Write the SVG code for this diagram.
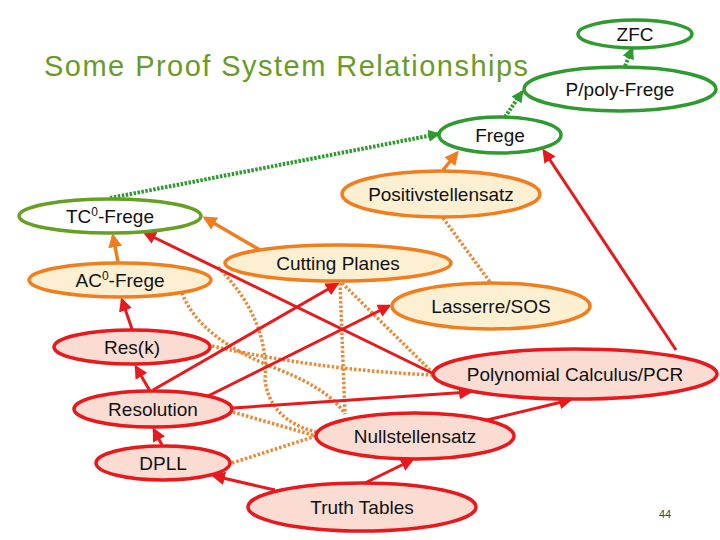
<svg xmlns="http://www.w3.org/2000/svg" width="720" height="540" viewBox="0 0 720 540">
<defs>
<style>
text{font-family:"Liberation Sans","DejaVu Sans",sans-serif;font-size:19px;fill:#111;text-anchor:middle}
.g{fill:#fff;stroke:#2f9a2f;stroke-width:3.5}
.g2{fill:#fff;stroke:#66a022;stroke-width:3.5}
.o{fill:#fdf0d2;stroke:#f07d1e;stroke-width:3.5}
.r{fill:#fbdcd2;stroke:#e8181c;stroke-width:3.5}
.gd{stroke:#2f9a2f;stroke-width:4;stroke-dasharray:2.5 1.5;fill:none}
.os{stroke:#f07d1e;stroke-width:3.5;fill:none}
.od{stroke:#ea8a38;stroke-width:3.5;stroke-dasharray:2.5 2;fill:none}
.rs{stroke:#e8181c;stroke-width:3;fill:none}
</style>
<marker id="ag" viewBox="0 0 10 10" refX="8" refY="5" markerWidth="3" markerHeight="3" orient="auto"><path d="M0,0L10,5L0,10z" fill="#2f9a2f"/></marker>
<marker id="ao" viewBox="0 0 10 10" refX="8" refY="5" markerWidth="4" markerHeight="4" orient="auto"><path d="M0,0L10,5L0,10z" fill="#f07d1e"/></marker>
<marker id="ar" viewBox="0 0 10 10" refX="8" refY="5" markerWidth="4.5" markerHeight="4.5" orient="auto"><path d="M0,0L10,5L0,10z" fill="#e8181c"/></marker>
</defs>
<rect width="720" height="540" fill="#fff"/>
<text x="44" y="76" textLength="484" style="font-size:29px;fill:#6a9a2a;text-anchor:start">Some Proof System Relationships</text>
<g id="connectors">
<path class="gd" d="M110,198 L438,134" marker-end="url(#ag)"/>
<path class="gd" d="M505,117 L522,92" marker-end="url(#ag)"/>
<path class="gd" d="M625,66 L632,49" marker-end="url(#ag)"/>
<path class="os" d="M118,262 L113,236" marker-end="url(#ao)"/>
<path class="os" d="M260,250 L205,218" marker-end="url(#ao)"/>
<path class="os" d="M443,170 L457,153" marker-end="url(#ao)"/>
<path class="od" d="M443,218 L490,282"/>
<path class="od" d="M340,283 L345,414"/>
<path class="od" d="M342,283 L430,370"/>
<path class="od" d="M182,293 Q200,340 280,370 Q330,390 345,414"/>
<path class="od" d="M218,267 Q270,320 265,380 Q270,420 316,432"/>
<path class="od" d="M212,346 Q320,370 432,375"/>
<path class="od" d="M233,412 L316,436"/>
<path class="od" d="M232,463 L316,436"/>
<path class="rs" d="M132,329 L122,300" marker-end="url(#ar)"/>
<path class="rs" d="M150,391 L136,367" marker-end="url(#ar)"/>
<path class="rs" d="M162,445 L154,430" marker-end="url(#ar)"/>
<path class="rs" d="M275,490 L214,476" marker-end="url(#ar)"/>
<path class="rs" d="M365,483 L412,460" marker-end="url(#ar)"/>
<path class="rs" d="M153,390 L337,284" marker-end="url(#ar)"/>
<path class="rs" d="M208,396 L389,306" marker-end="url(#ar)"/>
<path class="rs" d="M233,408 L470,392" marker-end="url(#ar)"/>
<path class="rs" d="M432,373 L145,233" marker-end="url(#ar)"/>
<path class="rs" d="M676,350 L544,151" marker-end="url(#ar)"/>
<path class="rs" d="M487,420 L570,400" marker-end="url(#ar)"/>
</g>
<g id="zfc"><ellipse class="g" cx="635" cy="34" rx="57" ry="14"/><text x="635" y="41">ZFC</text></g>
<g id="ppoly"><ellipse class="g" cx="620" cy="89" rx="96" ry="22"/><text x="620" y="96">P/poly-Frege</text></g>
<g id="frege"><ellipse class="g" cx="500" cy="135" rx="61" ry="18"/><text x="500" y="142">Frege</text></g>
<g id="tc0"><ellipse class="g2" cx="110" cy="216" rx="91" ry="17"/><text x="110" y="223">TC<tspan dy="-7" style="font-size:12px">0</tspan><tspan dy="7">-Frege</tspan></text></g>
<g id="ac0"><ellipse class="o" cx="120" cy="280" rx="91" ry="17"/><text x="120" y="287">AC<tspan dy="-7" style="font-size:12px">0</tspan><tspan dy="7">-Frege</tspan></text></g>
<g id="pos"><ellipse class="o" cx="441" cy="194" rx="99" ry="23"/><text x="441" y="201">Positivstellensatz</text></g>
<g id="cp"><ellipse class="o" cx="338" cy="263" rx="113" ry="18"/><text x="338" y="270">Cutting Planes</text></g>
<g id="las"><ellipse class="o" cx="491" cy="306" rx="99" ry="23"/><text x="491" y="313">Lasserre/SOS</text></g>
<g id="pc"><ellipse class="r" cx="575" cy="374" rx="142" ry="25"/><text x="575" y="381">Polynomial Calculus/PCR</text></g>
<g id="resk"><ellipse class="r" cx="132" cy="347" rx="78" ry="17"/><text x="132" y="354">Res(k)</text></g>
<g id="res"><ellipse class="r" cx="153" cy="409" rx="79" ry="18"/><text x="153" y="416">Resolution</text></g>
<g id="dpll"><ellipse class="r" cx="163" cy="463" rx="67" ry="17"/><text x="163" y="470">DPLL</text></g>
<g id="null"><ellipse class="r" cx="415" cy="436" rx="99" ry="23"/><text x="415" y="443">Nullstellensatz</text></g>
<g id="tt"><ellipse class="r" cx="362" cy="507" rx="114" ry="24"/><text x="362" y="514">Truth Tables</text></g>
<text x="665" y="518" style="font-size:11px;fill:#444">44</text>
</svg>
